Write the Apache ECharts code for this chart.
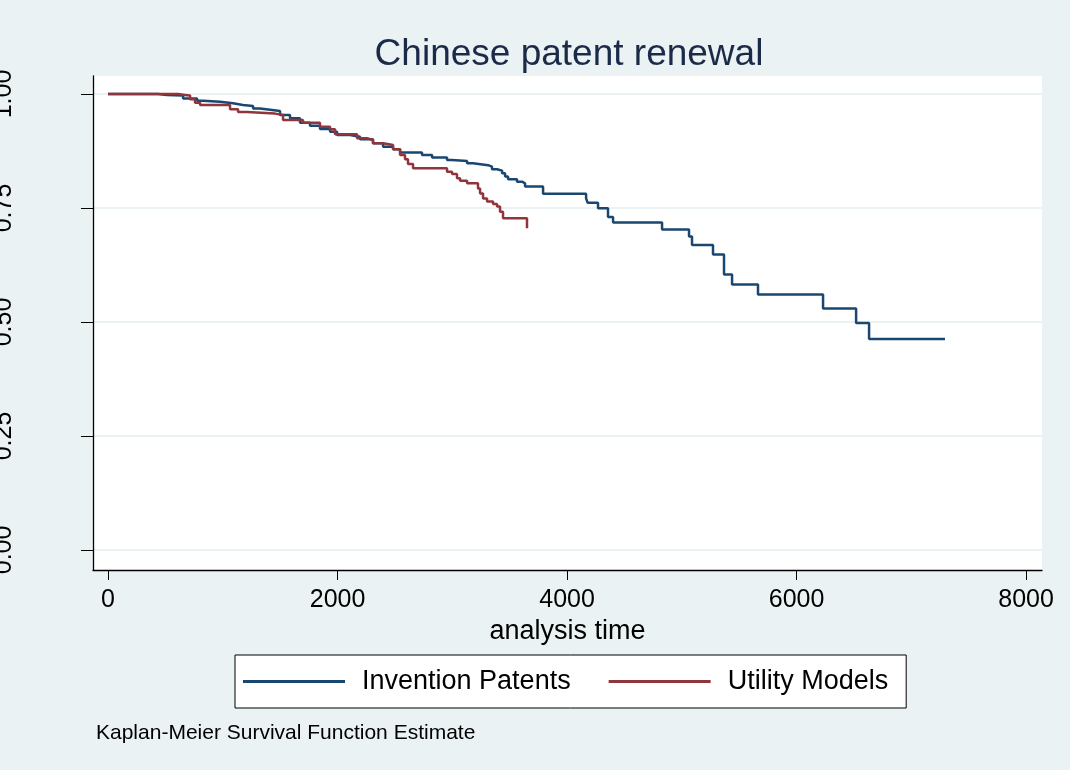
<!DOCTYPE html>
<html>
<head>
<meta charset="utf-8">
<title>Chinese patent renewal</title>
<script src="https://cdn.jsdelivr.net/npm/echarts@6/dist/echarts.min.js"></script>
<style>
  html, body { margin: 0; padding: 0; background: #eaf2f3; }
  #chart { width: 1070px; height: 770px; }
</style>
</head>
<body>
<div id="chart"></div>
<script>
// Kaplan-Meier survival estimates (analysis time in days, survival share)
const inventionTime = [0, 436, 514, 654, 776, 828, 976, 1089, 1176, 1264, 1325, 1394, 1499, 1586, 1673, 1760, 1847, 1935, 1996, 2109, 2196, 2309, 2397, 2484, 2545, 2736, 2824, 2954, 2998, 3129, 3181, 3312, 3346, 3390, 3434, 3460, 3486, 3564, 3608, 3634, 3791, 4166, 4179, 4270, 4357, 4401, 4828, 5063, 5089, 5272, 5368, 5438, 5664, 6231, 6519, 6632, 7294];
const inventionSurv = [1.000, 0.998, 0.9965, 0.990, 0.985, 0.983, 0.9796, 0.976, 0.9737, 0.968, 0.966, 0.9627, 0.954, 0.9467, 0.937, 0.9305, 0.923, 0.9173, 0.910, 0.9064, 0.9007, 0.892, 0.8844, 0.8787, 0.8717, 0.866, 0.861, 0.855, 0.853, 0.848, 0.844, 0.8406, 0.835, 0.832, 0.826, 0.819, 0.813, 0.8077, 0.804, 0.797, 0.781, 0.771, 0.7616, 0.7493, 0.730, 0.718, 0.703, 0.6875, 0.669, 0.648, 0.604, 0.582, 0.560, 0.5296, 0.4978, 0.4627, 0.4627];

const utilityTime = [0, 610, 671, 715, 758, 802, 1063, 1133, 1211, 1455, 1525, 1699, 1847, 1935, 1978, 2170, 2257, 2309, 2397, 2484, 2545, 2588, 2614, 2658, 2954, 2998, 3041, 3068, 3129, 3224, 3242, 3268, 3303, 3355, 3390, 3416, 3442, 3651];
const utilitySurv = [1.000, 0.998, 0.9965, 0.9884, 0.981, 0.976, 0.9664, 0.9605, 0.957, 0.954, 0.943, 0.937, 0.928, 0.9226, 0.912, 0.903, 0.899, 0.892, 0.888, 0.8787, 0.866, 0.857, 0.8465, 0.837, 0.8296, 0.8246, 0.815, 0.810, 0.804, 0.793, 0.782, 0.771, 0.764, 0.759, 0.753, 0.742, 0.7274, 0.7055];

const seriesNames = ['Invention Patents', 'Utility Models'];
const xTicks = [0, 2000, 4000, 6000, 8000];
const yTicks = [0, 0.25, 0.5, 0.75, 1];

const titleText = 'Chinese patent renewal';
const xAxisTitle = 'analysis time';
const noteText = 'Kaplan-Meier Survival Function Estimate';

const FONT = '"Liberation Sans", Arial, Helvetica, sans-serif';

function pairs(t, s) {
  return t.map((v, i) => [v, s[i]]);
}

const chart = echarts.init(document.getElementById('chart'), null, { renderer: 'canvas' });

chart.setOption({
  backgroundColor: '#eaf2f3',
  animation: false,
  title: [
    {
      text: titleText,
      left: 564,
      top: 31,
      textAlign: 'center',
      textStyle: { fontFamily: FONT, fontSize: 37, fontWeight: 'normal', color: '#1c2a4a' }
    },
    {
      text: noteText,
      left: 91,
      top: 718,
      textStyle: { fontFamily: FONT, fontSize: 21, fontWeight: 'normal', color: '#000' }
    }
  ],
  legend: {
    data: seriesNames,
    left: 235,
    top: 655,
    orient: 'horizontal',
    backgroundColor: '#fff',
    borderColor: '#000',
    borderWidth: 1,
    borderRadius: 0,
    padding: [13, 18, 13, 8],
    itemGap: 38,
    itemWidth: 102,
    itemHeight: 3,
    icon: 'rect',
    textStyle: { fontFamily: FONT, fontSize: 27, color: '#000', padding: [0, 0, 0, 12] }
  },
  grid: {
    left: 93,
    right: 28,
    top: 76,
    bottom: 200,
    containLabel: false,
    outerBoundsMode: 'none',
    show: true,
    backgroundColor: '#fff',
    borderWidth: 0
  },
  xAxis: {
    type: 'value',
    min: -131,
    max: 8139,
    name: xAxisTitle,
    nameLocation: 'middle',
    nameGap: 47,
    nameTextStyle: { fontFamily: FONT, fontSize: 27, color: '#000' },
    axisLine: { show: true, onZero: false, lineStyle: { color: '#000', width: 1.3 } },
    axisTick: { show: true, customValues: xTicks, length: 10, lineStyle: { color: '#000', width: 1 } },
    axisLabel: {
      customValues: xTicks,
      fontFamily: FONT,
      fontSize: 25,
      color: '#000',
      margin: 18,
      formatter: v => String(v)
    },
    splitLine: { show: false }
  },
  yAxis: {
    type: 'value',
    min: -0.044,
    max: 1.0395,
    axisLine: { show: true, onZero: false, lineStyle: { color: '#000', width: 1.3 } },
    axisTick: { show: true, customValues: yTicks, length: 12, lineStyle: { color: '#000', width: 1 } },
    axisLabel: {
      customValues: yTicks,
      rotate: 90,
      margin: 76,
      fontFamily: FONT,
      fontSize: 25,
      color: '#000',
      formatter: v => Number(v).toFixed(2)
    },
    splitLine: { show: true, lineStyle: { color: '#eaf2f3', width: 2 } }
  },
  series: [
    {
      name: seriesNames[0],
      type: 'line',
      step: 'end',
      symbol: 'none',
      data: pairs(inventionTime, inventionSurv),
      itemStyle: { color: '#1a476f' },
      lineStyle: { color: '#1a476f', width: 2.5 }
    },
    {
      name: seriesNames[1],
      type: 'line',
      step: 'end',
      symbol: 'none',
      data: pairs(utilityTime, utilitySurv),
      itemStyle: { color: '#90353b' },
      lineStyle: { color: '#90353b', width: 2.5 }
    }
  ]
});
</script>
</body>
</html>
